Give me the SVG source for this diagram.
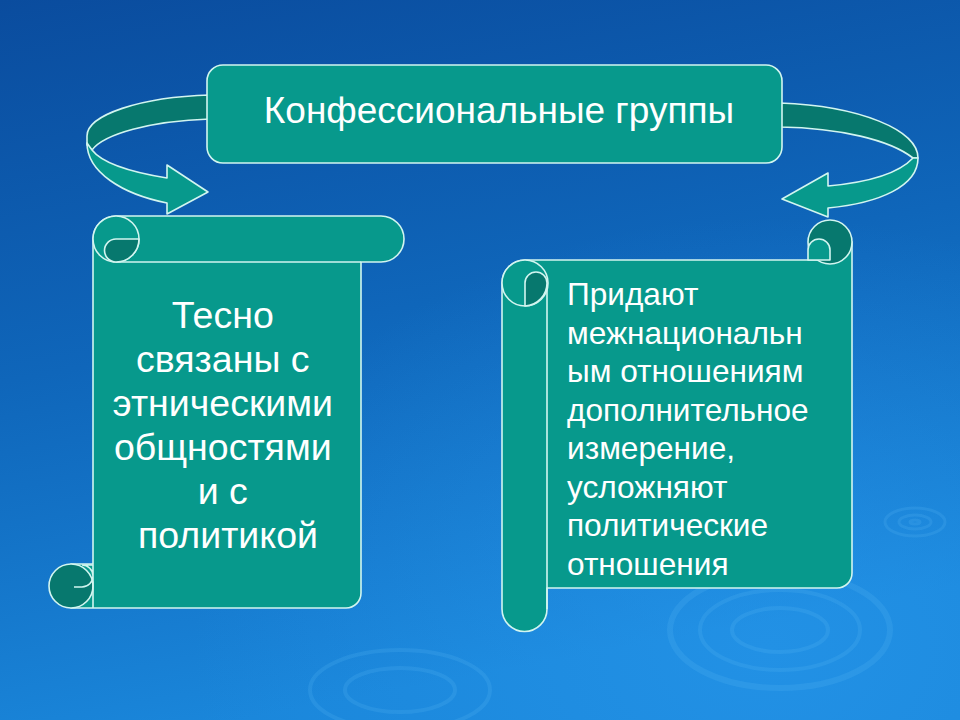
<svg xmlns="http://www.w3.org/2000/svg" width="960" height="720" viewBox="0 0 960 720">
<defs>
<linearGradient id="bg" x1="0" y1="0" x2="0.25" y2="1">
<stop offset="0" stop-color="#0a4c9e"/>
<stop offset="0.5" stop-color="#0f66ba"/>
<stop offset="1" stop-color="#1a86da"/>
</linearGradient>
<radialGradient id="glow" cx="0.8" cy="0.9" r="0.6">
<stop offset="0" stop-color="#2a9cf0" stop-opacity="0.5"/>
<stop offset="1" stop-color="#2a9cf0" stop-opacity="0"/>
</radialGradient>
<style>
.sh{fill:#07998c;stroke:#d2f5f0;stroke-width:1.6;stroke-linejoin:round}
.dk{fill:#07786e;stroke:#d2f5f0;stroke-width:1.6;stroke-linejoin:round}
.ln{fill:none;stroke:#d2f5f0;stroke-width:1.6}
.rp{fill:none;stroke:#5ab8f5;stroke-opacity:0.2}
.t{font-family:"Liberation Sans",Arial,sans-serif;fill:#ffffff}
</style>
</defs>
<rect width="960" height="720" fill="url(#bg)"/>
<rect width="960" height="720" fill="url(#glow)"/>
<g id="ripples">
<ellipse class="rp" cx="915" cy="522" rx="30" ry="14" stroke-width="3"/>
<ellipse class="rp" cx="915" cy="522" rx="16" ry="7" stroke-width="3"/>
<ellipse class="rp" cx="915" cy="522" rx="5" ry="2" stroke-width="3"/>
<ellipse class="rp" cx="780" cy="630" rx="110" ry="58" stroke-width="6"/>
<ellipse class="rp" cx="780" cy="630" rx="80" ry="40" stroke-width="4"/>
<ellipse class="rp" cx="780" cy="630" rx="48" ry="22" stroke-width="4"/>
<ellipse class="rp" cx="400" cy="690" rx="90" ry="40" stroke-width="4" stroke-opacity="0.12"/>
<ellipse class="rp" cx="400" cy="690" rx="55" ry="22" stroke-width="4" stroke-opacity="0.12"/>
</g>
<g id="left-scroll">
<path class="sh" d="M116,216 H381 A23,23 0 0 1 381,262 H361 V593 A15,15 0 0 1 346,608 H71 V564 H93 V238 A23,23 0 0 1 116,216 Z"/>
<path class="ln" d="M116,262 H361"/>
<circle class="sh" cx="116" cy="239" r="23"/>
<path class="dk" d="M139,239 H116 A11.5,11.5 0 0 0 116,262 A23,23 0 0 0 139,239 Z"/>
<circle class="dk" cx="71" cy="586" r="22"/>
<path class="ln" d="M74,587 H82 A11,11 0 0 0 82,565 H93 V608"/>
<text class="t" font-size="37.5" text-anchor="middle">
<tspan x="228" y="328">Тесно</tspan>
<tspan x="228" y="372">связаны с</tspan>
<tspan x="228" y="416">этническими</tspan>
<tspan x="228" y="460">общностями</tspan>
<tspan x="228" y="504">и с</tspan>
<tspan x="228" y="548">политикой</tspan>
</text>
</g>
<g id="right-scroll">
<path class="sh" d="M525,260 H830 V242 A22,22 0 0 1 852,242 V573 A15,15 0 0 1 837,588 H547 V609 A22.5,22.5 0 0 1 502,609 V283 A23,23 0 0 1 525,260 Z"/>
<path class="ln" d="M547,283 V609"/>
<circle class="sh" cx="525" cy="283" r="23"/>
<path class="dk" d="M525,306 V283 A11,11 0 0 1 547,283 A23,23 0 0 1 525,306 Z"/>
<circle class="dk" cx="830" cy="242" r="22"/>
<path class="sh" d="M808,260 V250 A11,11 0 0 1 830,250 V260 Z"/>
<text class="t" font-size="31.6">
<tspan x="567" y="305">Придают</tspan>
<tspan x="567" y="343.5">межнациональн</tspan>
<tspan x="567" y="382">ым отношениям</tspan>
<tspan x="567" y="420.5">дополнительное</tspan>
<tspan x="567" y="459">измерение,</tspan>
<tspan x="567" y="497.5">усложняют</tspan>
<tspan x="567" y="536">политические</tspan>
<tspan x="567" y="574.5">отношения</tspan>
</text>
</g>
<g id="connectors">
<path class="dk" d="M210,95 C140,97 87,115 87,136 L87,145 L92,150 C104,134 150,121 210,119 Z"/>
<path class="sh" d="M87,143 C87,172 122,194 167,203 L167,214 L208,192 L167,165 L167,178 C130,172 102,163 92,150 Z"/>
<path class="dk" d="M780,103 C860,106 918,130 918,158 L913,158 C890,140 840,128 780,127 Z"/>
<path class="sh" d="M918,158 C918,186 880,203 828,208 L828,217 L782,199 L828,173 L828,186 C872,182 900,172 913,158 Z"/>
</g>
<g id="top-box">
<rect class="sh" x="207" y="65" width="575" height="98" rx="16"/>
<text class="t" x="499" y="123" font-size="37" text-anchor="middle">Конфессиональные группы</text>
</g>
</svg>
